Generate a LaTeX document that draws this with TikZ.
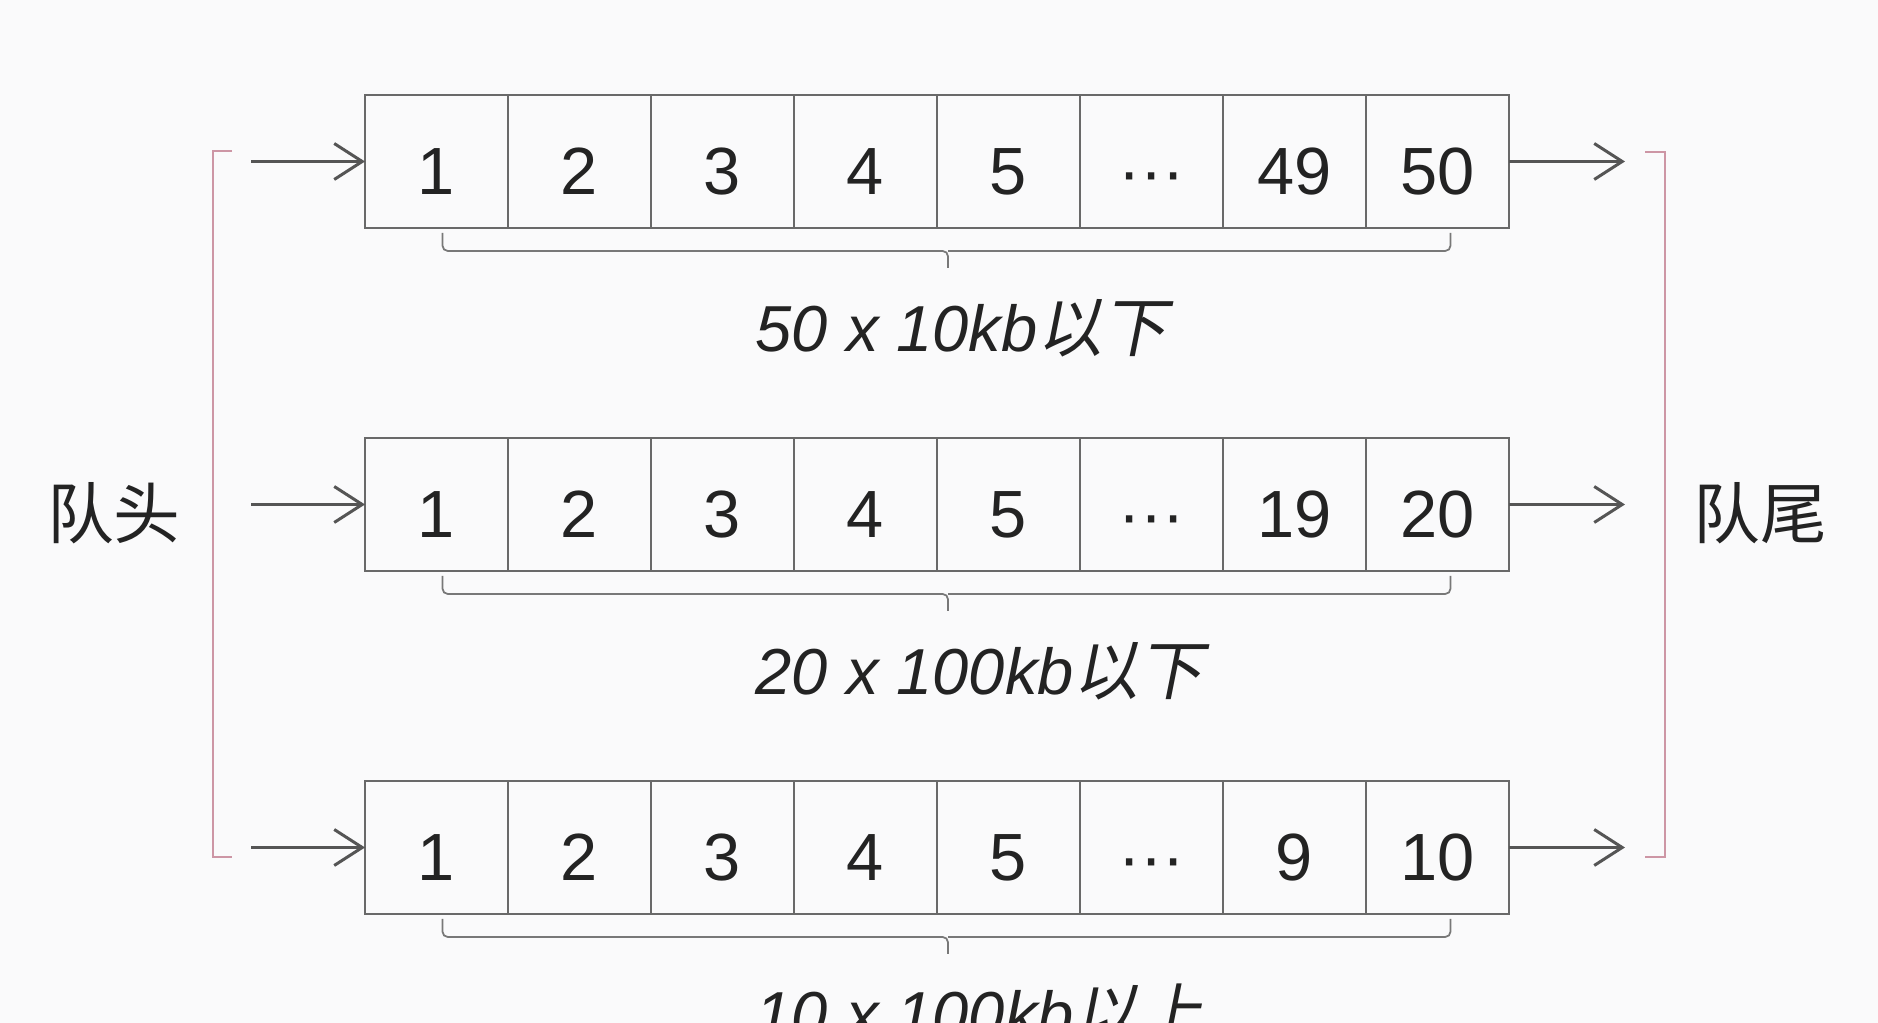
\documentclass[tikz,border=0pt]{standalone}
\usepackage{fontspec}
\setmainfont{Liberation Sans}
\newfontfamily\cjk{Noto Sans CJK SC}
\newfontfamily\cjkslant[FakeSlant=0.2]{Noto Sans CJK SC}
\usetikzlibrary{arrows.meta}
\usetikzlibrary{positioning}

\definecolor{boxgray}{RGB}{105,105,105}
\definecolor{arrowgray}{RGB}{85,85,85}
\definecolor{bracegray}{RGB}{120,120,120}
\definecolor{bracketred}{RGB}{205,150,165}
\definecolor{inkgray}{RGB}{35,35,35}
\definecolor{paper}{RGB}{250,250,251}

\begin{document}
\begin{tikzpicture}[>={Straight Barb[length=0.28cm,width=0.36cm]}, node distance=1.43cm,
                    cell/.style = {draw=boxgray, line width=0.6pt, minimum width=1.43cm,
                                   minimum height=1.33cm, inner sep=0pt, outer sep=0pt,
                                   text height=0.67cm, text depth=0pt, text=inkgray,
                                   font=\fontsize{19}{19}\selectfont},
                    feed/.style = {->, draw=arrowgray, line width=0.85pt},
                    brace/.style = {draw=bracegray, line width=0.5pt, rounded corners=1.5pt},
                    bracket/.style = {draw=bracketred, line width=0.6pt},
                    sizetag/.style = {anchor=base west, inner sep=0pt, text=inkgray,
                                      font=\fontsize{18.5}{18.5}\selectfont\itshape},
                    side/.style = {text=inkgray, font=\fontsize{19}{19}\selectfont\cjk}]
  \fill[paper] (0,0) rectangle (18.78,-10.23);
  \useasboundingbox (0,0) rectangle (18.78,-10.23);

  % three queues
  \foreach \r/\y/\a/\b/\tag in {1/1.615/49/50/{50 x 10kb{\cjkslant\upshape 以下}},
                                2/5.045/19/20/{20 x 100kb{\cjkslant\upshape 以下}},
                                3/8.475/9/10/{10 x 100kb{\cjkslant\upshape 以上}}} {
    \node [cell] (row\r-1) at (4.365,-\y) {1};
    \foreach \t [count=\i from 2] in {2,3,4,5,\textperiodcentered\textperiodcentered\textperiodcentered,\a,\b} {
      \pgfmathtruncatemacro\j{\i-1}
      \node [cell] (row\r-\i) [right of=row\r-\j] {\t};
    }
    \coordinate (in\r) at (2.51,-\y);
    \coordinate (out\r) at (16.25,-\y);
    \draw [feed] (in\r) -- (row\r-1);
    \draw [feed] (row\r-8) -- (out\r);
    \draw [brace] ([shift={(0.06,-0.05)}]row\r-1.south) |- ([shift={(0.11,-0.23)}]row\r-4.south east)
      -- ++(0,-0.17) ++(0,0.17) -| ([shift={(0.13,-0.05)}]row\r-8.south);
    \node [sizetag] (tag\r) at (7.55,{-\y-1.9}) {\tag};
  }

  \draw [bracket] (2.32,-1.51) -- (2.13,-1.51) -- (2.13,-8.57) -- (2.32,-8.57);
  \draw [bracket] (16.45,-1.52) -- (16.65,-1.52) -- (16.65,-8.57) -- (16.45,-8.57);

  \node [side] (head) at (1.14,-5.13) {队头};
  \node [side] (tail) at (17.60,-5.13) {队尾};
\end{tikzpicture}
\end{document}
